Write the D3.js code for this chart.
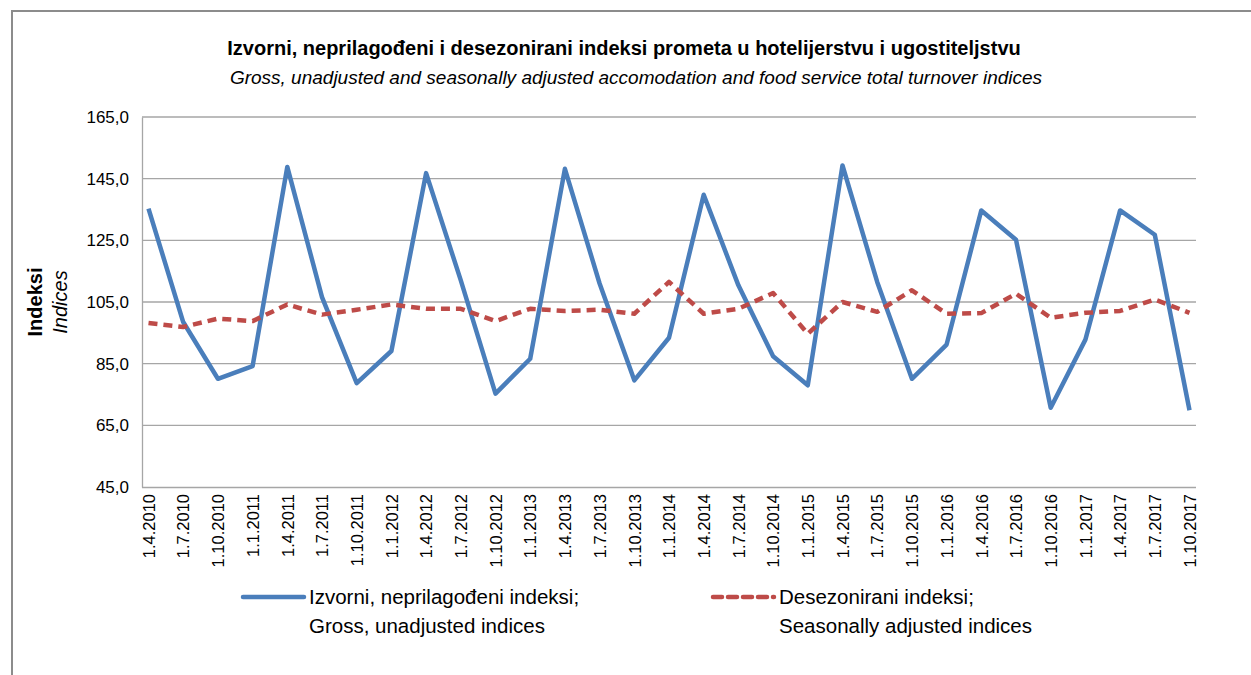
<!DOCTYPE html>
<html>
<head>
<meta charset="utf-8">
<script src="https://cdn.jsdelivr.net/npm/d3@7"></script>
<style>
  body { margin: 0; background: #fff; }
  svg text { font-family: "Liberation Sans Narrow", "Arial Narrow", "Liberation Sans", sans-serif; fill: #000; }
</style>
</head>
<body>
<div id="chart"></div>
<script>
// Quarter labels (x categories)
const quarters = [
  '1.4.2010', '1.7.2010', '1.10.2010', '1.1.2011', '1.4.2011', '1.7.2011', '1.10.2011',
  '1.1.2012', '1.4.2012', '1.7.2012', '1.10.2012', '1.1.2013', '1.4.2013', '1.7.2013',
  '1.10.2013', '1.1.2014', '1.4.2014', '1.7.2014', '1.10.2014', '1.1.2015', '1.4.2015',
  '1.7.2015', '1.10.2015', '1.1.2016', '1.4.2016', '1.7.2016', '1.10.2016', '1.1.2017',
  '1.4.2017', '1.7.2017', '1.10.2017'
];

// Gross, unadjusted indices
const grossValues = [
  135.3, 98.5, 80.1, 84.2, 148.8, 106.6, 78.7,
  89.1, 146.8, 112.0, 75.3, 86.6, 148.2, 111.0,
  79.6, 93.4, 139.8, 110.4, 87.4, 78.0, 149.3,
  111.5, 80.1, 91.2, 134.7, 125.2, 70.7, 92.8,
  134.7, 126.8, 69.9
];

// Seasonally adjusted indices
const adjustedValues = [
  98.2, 96.9, 99.6, 98.8, 104.2, 100.9, 102.5,
  104.2, 102.8, 102.8, 98.8, 102.8, 102.1, 102.5,
  101.2, 111.5, 101.2, 102.8, 107.9, 94.7, 105.0,
  101.8, 108.8, 101.2, 101.4, 107.7, 99.9, 101.5,
  102.1, 105.8, 101.5
];

const yTicks = [45, 65, 85, 105, 125, 145, 165];

const legendItems = [
  { lines: ['Izvorni, neprilagođeni indeksi;', 'Gross, unadjusted indices'], color: '#4a7ebb', dash: null },
  { lines: ['Desezonirani indeksi;', 'Seasonally adjusted indices'], color: '#be4b48', dash: '9,6' }
];

const width = 1251, height = 675;
const plot = { left: 142, right: 1196, top: 117, bottom: 487 };

const svg = d3.select('#chart').append('svg')
  .attr('width', width)
  .attr('height', height);

// Outer frame
svg.append('path')
  .attr('d', `M12,${height} L12,11 L${width},11`)
  .attr('fill', 'none')
  .attr('stroke', '#8c8c8c')
  .attr('stroke-width', 2);

const x = d3.scalePoint()
  .domain(quarters)
  .range([plot.left + 6.5, plot.right - 6.5]);

const y = d3.scaleLinear()
  .domain([45, 165])
  .range([plot.bottom, plot.top]);

const fmt = d => d3.format('.1f')(d).replace('.', ',');

// Gridlines
svg.append('g')
  .selectAll('line')
  .data(yTicks.slice(1))
  .join('line')
  .attr('x1', plot.left)
  .attr('x2', plot.right)
  .attr('y1', d => y(d))
  .attr('y2', d => y(d))
  .attr('stroke', '#a6a6a6')
  .attr('stroke-width', 1.3);

// Y axis
const yAxis = svg.append('g')
  .attr('transform', `translate(${plot.left},0)`)
  .call(d3.axisLeft(y).tickValues(yTicks).tickFormat(fmt).tickSize(0).tickPadding(13));
yAxis.select('.domain').attr('stroke', '#a6a6a6').attr('stroke-width', 1.3);
yAxis.selectAll('text').style('font-size', '17px');

// X axis
const xAxis = svg.append('g')
  .attr('transform', `translate(0,${plot.bottom})`)
  .call(d3.axisBottom(x).tickSize(0).tickPadding(0));
xAxis.select('.domain')
  .attr('d', `M${plot.left},0.5H${plot.right}`)
  .attr('stroke', '#a6a6a6').attr('stroke-width', 1.3);
xAxis.selectAll('text')
  .style('font-size', '16.5px')
  .attr('text-anchor', 'end')
  .attr('dy', '0.35em')
  .attr('transform', 'translate(0,7) rotate(-90)')
  .attr('x', 0)
  .attr('y', 0);

// Lines
const line = d3.line()
  .x((d, i) => x(quarters[i]))
  .y(d => y(d));

svg.append('path')
  .datum(grossValues)
  .attr('fill', 'none')
  .attr('stroke', legendItems[0].color)
  .attr('stroke-width', 4.5)
  .attr('stroke-linejoin', 'round')
  .attr('d', line);

svg.append('path')
  .datum(adjustedValues)
  .attr('fill', 'none')
  .attr('stroke', legendItems[1].color)
  .attr('stroke-width', 4.5)
  .attr('stroke-dasharray', legendItems[1].dash)
  .attr('stroke-linejoin', 'round')
  .attr('d', line);

// Titles
svg.append('text')
  .attr('x', 624).attr('y', 55)
  .attr('text-anchor', 'middle')
  .style('font-size', '20px')
  .style('font-weight', 'bold')
  .text('Izvorni, neprilagođeni i desezonirani indeksi prometa u hotelijerstvu i ugostiteljstvu');

svg.append('text')
  .attr('x', 636).attr('y', 84)
  .attr('text-anchor', 'middle')
  .style('font-size', '19px')
  .style('font-style', 'italic')
  .text('Gross, unadjusted and seasonally adjusted accomodation and food service total turnover indices');

// Y axis title
svg.append('text')
  .attr('transform', 'translate(42,302) rotate(-90)')
  .attr('text-anchor', 'middle')
  .style('font-size', '20px')
  .style('font-weight', 'bold')
  .text('Indeksi');

svg.append('text')
  .attr('transform', 'translate(67,302) rotate(-90)')
  .attr('text-anchor', 'middle')
  .style('font-size', '20px')
  .style('font-style', 'italic')
  .text('Indices');

// Legend
const legendX = [243, 713];
const legend = svg.append('g');
legendItems.forEach((item, i) => {
  const g = legend.append('g').attr('transform', `translate(${legendX[i]},597)`);
  g.append('line')
    .attr('x1', 0).attr('x2', 61)
    .attr('y1', 0).attr('y2', 0)
    .attr('stroke', item.color)
    .attr('stroke-width', 4.5)
    .attr('stroke-linecap', 'round')
    .attr('stroke-dasharray', item.dash);
  item.lines.forEach((t, j) => {
    g.append('text')
      .attr('x', 66)
      .attr('y', j * 29)
      .attr('dy', '0.35em')
      .style('font-size', '20.5px')
      .text(t);
  });
});
</script>
</body>
</html>
